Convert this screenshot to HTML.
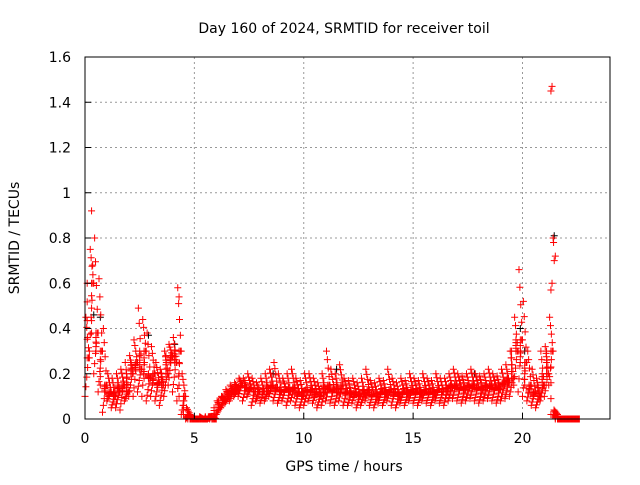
<!DOCTYPE html>
<html><head><meta charset="utf-8"><style>
body{margin:0;background:#fff}
svg text{font-family:"DejaVu Sans","Liberation Sans",sans-serif;font-size:14px;fill:#000}
</style></head><body>
<svg id="chart" width="640" height="480" xmlns="http://www.w3.org/2000/svg">
<rect width="640" height="480" fill="#fff"/>
<g id="grid"></g>
<g id="marks"></g>
<rect x="85" y="57" width="525" height="362" fill="none" stroke="#000" stroke-width="1"/>
<g id="ticks"></g>
<text x="344" y="33" text-anchor="middle">Day 160 of 2024, SRMTID for receiver toil</text>
<text x="344" y="471" text-anchor="middle">GPS time / hours</text>
<text transform="translate(19,238) rotate(-90)" text-anchor="middle">SRMTID / TECUs</text>
</svg>
<script>
const xTicks=[0,5,10,15,20];
const yTicks=[0,0.2,0.4,0.6,0.8,1,1.2,1.4,1.6];
const yTickLabels=["0","0.2","0.4","0.6","0.8","1","1.2","1.4","1.6"];
const times=[0.0,0.2,0.4,0.6,0.8,1.0,1.2,1.4,1.6,1.8,2.0,2.2,2.4,2.6,2.8,3.0,3.2,3.4,3.6,3.8,4.0,4.2,4.4,4.6,4.8,5.0,5.2,5.4,5.6,5.8,6.0,6.2,6.4,6.6,6.8,7.0,7.2,7.4,7.6,7.8,8.0,8.2,8.4,8.6,8.8,9.0,9.2,9.4,9.6,9.8,10.0,10.2,10.4,10.6,10.8,11.0,11.2,11.4,11.6,11.8,12.0,12.2,12.4,12.6,12.8,13.0,13.2,13.4,13.6,13.8,14.0,14.2,14.4,14.6,14.8,15.0,15.2,15.4,15.6,15.8,16.0,16.2,16.4,16.6,16.8,17.0,17.2,17.4,17.6,17.8,18.0,18.2,18.4,18.6,18.8,19.0,19.2,19.4,19.6,19.8,20.0,20.2,20.4,20.6,20.8,21.0,21.2,21.4,21.6,21.8,22.0,22.2,22.4];
const lowVals=[0.10,0.30,0.20,0.12,0.03,0.08,0.05,0.05,0.04,0.08,0.10,0.10,0.12,0.10,0.08,0.10,0.08,0.06,0.10,0.15,0.12,0.08,0.02,0,0,0,0,0,0,0,0.02,0.05,0.07,0.08,0.10,0.10,0.08,0.10,0.06,0.08,0.07,0.08,0.10,0.08,0.07,0.08,0.06,0.08,0.06,0.05,0.06,0.08,0.07,0.05,0.06,0.08,0.07,0.06,0.08,0.06,0.06,0.07,0.05,0.06,0.08,0.06,0.05,0.07,0.06,0.08,0.06,0.05,0.07,0.06,0.08,0.07,0.06,0.08,0.07,0.06,0.08,0.07,0.06,0.08,0.09,0.08,0.07,0.08,0.09,0.08,0.07,0.08,0.09,0.08,0.07,0.08,0.09,0.10,0.15,0.12,0.10,0.08,0.06,0.05,0.08,0.10,0.15,0.02,0,0,0,0,0];
const midVals=[0.27,0.60,0.38,0.30,0.15,0.12,0.10,0.12,0.15,0.12,0.20,0.25,0.22,0.30,0.18,0.20,0.16,0.15,0.20,0.28,0.25,0.30,0.10,0.02,0,0,0,0,0.01,0,0.05,0.08,0.10,0.12,0.13,0.15,0.14,0.14,0.12,0.12,0.12,0.12,0.15,0.14,0.12,0.13,0.12,0.14,0.12,0.10,0.12,0.13,0.12,0.10,0.12,0.15,0.13,0.12,0.15,0.12,0.11,0.12,0.10,0.11,0.13,0.11,0.10,0.12,0.11,0.13,0.12,0.10,0.12,0.11,0.13,0.12,0.11,0.13,0.12,0.11,0.13,0.12,0.12,0.14,0.15,0.14,0.13,0.14,0.15,0.14,0.13,0.14,0.15,0.14,0.13,0.15,0.16,0.18,0.30,0.35,0.25,0.15,0.12,0.10,0.15,0.20,0.30,0.02,0,0,0,0,0];
const highVals=[0.45,0.75,0.80,0.62,0.40,0.20,0.18,0.20,0.22,0.25,0.28,0.35,0.49,0.44,0.38,0.32,0.25,0.22,0.30,0.33,0.36,0.58,0.20,0.05,0.01,0,0.01,0,0.01,0.01,0.08,0.10,0.13,0.15,0.16,0.18,0.18,0.20,0.18,0.16,0.18,0.20,0.22,0.25,0.20,0.18,0.20,0.22,0.18,0.17,0.20,0.20,0.18,0.16,0.20,0.30,0.22,0.20,0.24,0.18,0.17,0.18,0.16,0.18,0.22,0.17,0.16,0.18,0.17,0.22,0.18,0.16,0.18,0.17,0.20,0.18,0.17,0.20,0.18,0.17,0.20,0.18,0.18,0.20,0.22,0.20,0.19,0.20,0.22,0.20,0.19,0.20,0.22,0.20,0.19,0.22,0.24,0.30,0.45,0.66,0.52,0.30,0.22,0.18,0.30,0.32,0.45,0.04,0,0,0,0,0];
const spikeTimes=[0.3,0.35,4.3,21.3,21.35,21.4,21.42,21.45,21.5,21.3,21.35];
const spikeVals=[0.92,0.68,0.54,1.45,1.47,0.8,0.78,0.7,0.72,0.57,0.6];
const blackTimes=[0.4,0.7,2.9,4.1,8.6,11.5,17.8,19.9,20.1,21.45];
const blackVals=[0.46,0.45,0.37,0.33,0.2,0.22,0.2,0.4,0.3,0.81];
const fracs=[0,0.25,0.5,0.75,1];

const X0=85,X1=610,Y0=419,Y1=57,XMAX=24,YMAX=1.6;
const xs=v=>X0+v/XMAX*(X1-X0);
const ys=v=>Y0-v/YMAX*(Y0-Y1);
const NS="http://www.w3.org/2000/svg";
const grid=document.getElementById('grid'),ticks=document.getElementById('ticks'),marks=document.getElementById('marks');
function mk(tag,parent){const e=document.createElementNS(NS,tag);parent.appendChild(e);return e;}
xTicks.forEach(t=>{
 const x=xs(t);
 if(t>0){const g=mk('line',grid);
 
 
 g.setAttribute('x1',x);g.setAttribute('x2',x);g.setAttribute('y1',Y1);g.setAttribute('y2',Y0);g.setAttribute('stroke','#999');g.setAttribute('stroke-dasharray','2,3');}
 const tk=mk('line',ticks);
 
 
 tk.setAttribute('x1',x);tk.setAttribute('x2',x);tk.setAttribute('y1',Y0);tk.setAttribute('y2',Y0-6);tk.setAttribute('stroke','#000');
 const lb=mk('text',ticks);
 
 
 lb.setAttribute('x',x);lb.setAttribute('y',Y0+24);lb.setAttribute('text-anchor','middle');lb.textContent=t;
});
yTicks.forEach((t,i)=>{
 const y=ys(t);
 if(t>0&&t<YMAX){const g=mk('line',grid);
 
 
 g.setAttribute('x1',X0);g.setAttribute('x2',X1);g.setAttribute('y1',y);g.setAttribute('y2',y);g.setAttribute('stroke','#999');g.setAttribute('stroke-dasharray','2,3');}
 const tk=mk('line',ticks);
 
 
 tk.setAttribute('x1',X0);tk.setAttribute('x2',X0+6);tk.setAttribute('y1',y);tk.setAttribute('y2',y);tk.setAttribute('stroke','#000');
 const lb=mk('text',ticks);
 
 
 lb.setAttribute('x',X0-14);lb.setAttribute('y',y+5);lb.setAttribute('text-anchor','end');lb.textContent=yTickLabels[i];
});
function plus(t,v,color,name){
 const x=xs(t),y=ys(v);
 const p=mk('path',marks);
 
 
 p.setAttribute('d',`M${x-3.5},${y}h7M${x},${y-3.5}v7`);
 p.setAttribute('stroke',color);p.setAttribute('stroke-width','1');p.setAttribute('fill','none');
}
blackTimes.forEach((t,i)=>plus(t,blackVals[i],'#000','black-point'));
times.forEach((t,i)=>{
 const l=lowVals[i],m=midVals[i],h=highVals[i];
 const n=i+1<times.length?i+1:i;
 fracs.forEach((f,k)=>{
  const dt=0.2*k/5;
  plus(t+dt,l+(m-l)*f,'#f00','red-point');
  plus(t+0.2-dt,m+(h-m)*f,'#f00','red-point');
  plus(t+0.1,m+((midVals[n])-m)*f,'#f00','red-point');
 });
});
spikeTimes.forEach((t,i)=>plus(t,spikeVals[i],'#f00','red-spike-point'));
</script>
</body></html>
